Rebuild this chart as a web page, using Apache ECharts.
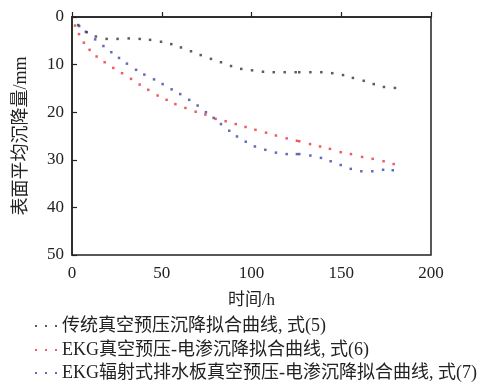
<!DOCTYPE html>
<html><head><meta charset="utf-8">
<script src="https://cdn.jsdelivr.net/npm/echarts@6/dist/echarts.min.js"></script>
<style>html,body{margin:0;padding:0;background:#fff}#c{width:493px;height:385px}</style>
</head><body><div id="c"></div>
<script>
// Data
const seriesNames = [
  '传统真空预压沉降拟合曲线, 式(5)',
  'EKG真空预压-电渗沉降拟合曲线, 式(6)',
  'EKG辐射式排水板真空预压-电渗沉降拟合曲线, 式(7)'
];
const t1 = [3.5, 8.2, 13.3, 19.3, 25.4, 31.6, 37.7, 43.5, 49.6, 55.3, 60.7, 66.3, 71.7, 77.4, 83.0, 88.6, 94.3, 100.3, 106.4, 112.4, 118.5, 124.6, 126.6, 132.8, 138.9, 145.0, 151.0, 156.5, 162.5, 168.1, 173.8, 179.9];
const s1 = [1.7, 3.2, 4.1, 4.6, 4.6, 4.5, 4.6, 4.8, 5.2, 5.7, 6.4, 7.2, 8.0, 8.8, 9.5, 10.3, 10.9, 11.2, 11.5, 11.6, 11.6, 11.6, 11.6, 11.6, 11.6, 11.8, 12.2, 12.8, 13.4, 14.1, 14.7, 14.9];
const t2 = [1.7, 3.9, 6.6, 9.8, 13.7, 18.2, 23.0, 27.9, 32.9, 37.7, 42.5, 47.7, 52.7, 57.6, 63.2, 68.9, 74.3, 80.0, 85.6, 91.2, 96.7, 102.2, 108.1, 113.6, 119.6, 125.3, 126.6, 132.6, 138.2, 143.7, 149.7, 155.4, 161.6, 167.5, 173.6, 179.2];
const s2 = [1.8, 3.6, 5.4, 6.9, 8.3, 9.5, 10.7, 11.8, 13.0, 14.2, 15.3, 16.5, 17.4, 18.3, 19.1, 19.9, 20.5, 21.4, 21.9, 22.5, 23.1, 23.7, 24.3, 24.9, 25.5, 26.0, 26.1, 26.7, 27.2, 27.7, 28.4, 28.8, 29.4, 29.8, 30.3, 30.9];
const t3 = [4.0, 7.7, 12.9, 17.5, 21.9, 26.2, 30.6, 35.7, 40.3, 45.7, 50.5, 55.5, 60.3, 65.3, 70.0, 74.6, 78.9, 83.0, 87.6, 91.9, 96.8, 101.9, 107.7, 113.6, 119.6, 125.3, 126.6, 132.8, 138.7, 144.1, 149.7, 155.3, 161.2, 167.3, 173.3, 178.7];
const s3 = [1.9, 3.1, 4.7, 6.1, 7.4, 8.6, 9.8, 11.1, 12.1, 13.1, 14.1, 15.2, 16.2, 17.4, 18.6, 20.0, 21.2, 22.5, 23.9, 25.1, 26.2, 27.2, 27.9, 28.5, 28.8, 28.8, 28.8, 29.1, 29.6, 30.3, 31.1, 31.9, 32.4, 32.4, 32.1, 32.2];

const zip = (a, b) => a.map((v, i) => [v, b[i]]);
const colors = ['#333333', '#e8323c', '#3b45a8'];
const font = "'Liberation Serif', 'Noto Sans CJK SC', serif";
const legendTops = [312, 336, 359];

const chart = echarts.init(document.getElementById('c'), null, {renderer: 'canvas'});
chart.setOption({
  animation: false,
  backgroundColor: '#fff',
  textStyle: {fontFamily: font},
  grid: {left: 72, right: 62, top: 17, bottom: 130, show: true, borderColor: '#222', borderWidth: 1.5, backgroundColor: 'transparent'},
  xAxis: {
    type: 'value', min: 0, max: 200, interval: 50,
    name: '时间/h', nameLocation: 'middle', nameGap: 37,
    nameTextStyle: {fontSize: 17, color: '#222', fontFamily: font},
    axisLine: {lineStyle: {color: '#222', width: 1.5}},
    axisTick: {inside: true, length: 5, lineStyle: {color: '#222', width: 1.2}},
    axisLabel: {fontSize: 17, color: '#222', margin: 10, fontFamily: font},
    splitLine: {show: false}
  },
  yAxis: {
    type: 'value', min: 0, max: 50, interval: 10, inverse: true,
    name: '表面平均沉降量/mm', nameLocation: 'middle', nameGap: 42, nameRotate: 90,
    nameTextStyle: {fontSize: 18, color: '#222', fontFamily: font},
    axisLine: {lineStyle: {color: '#222', width: 1.5}},
    axisTick: {inside: true, length: 5, lineStyle: {color: '#222', width: 1.2}},
    axisLabel: {fontSize: 17, color: '#222', margin: 8, fontFamily: font},
    splitLine: {show: false}
  },
  legend: seriesNames.map((n, i) => ({
    orient: 'vertical', left: 30, top: legendTops[i],
    itemWidth: 22, itemHeight: 2,
    icon: 'path://M0,0h2v2h-2z M10,0h2v2h-2z M20,0h2v2h-2z',
    textStyle: {fontSize: 18, color: '#222', fontFamily: font},
    data: [n]
  })),
  series: [
    {name: seriesNames[0], type: 'scatter', symbol: 'rect', symbolSize: 2.5, itemStyle: {color: colors[0]}, data: zip(t1, s1)},
    {name: seriesNames[1], type: 'scatter', symbol: 'rect', symbolSize: 2.5, itemStyle: {color: colors[1]}, data: zip(t2, s2)},
    {name: seriesNames[2], type: 'scatter', symbol: 'rect', symbolSize: 2.5, itemStyle: {color: colors[2]}, data: zip(t3, s3)}
  ]
});
</script></body></html>
